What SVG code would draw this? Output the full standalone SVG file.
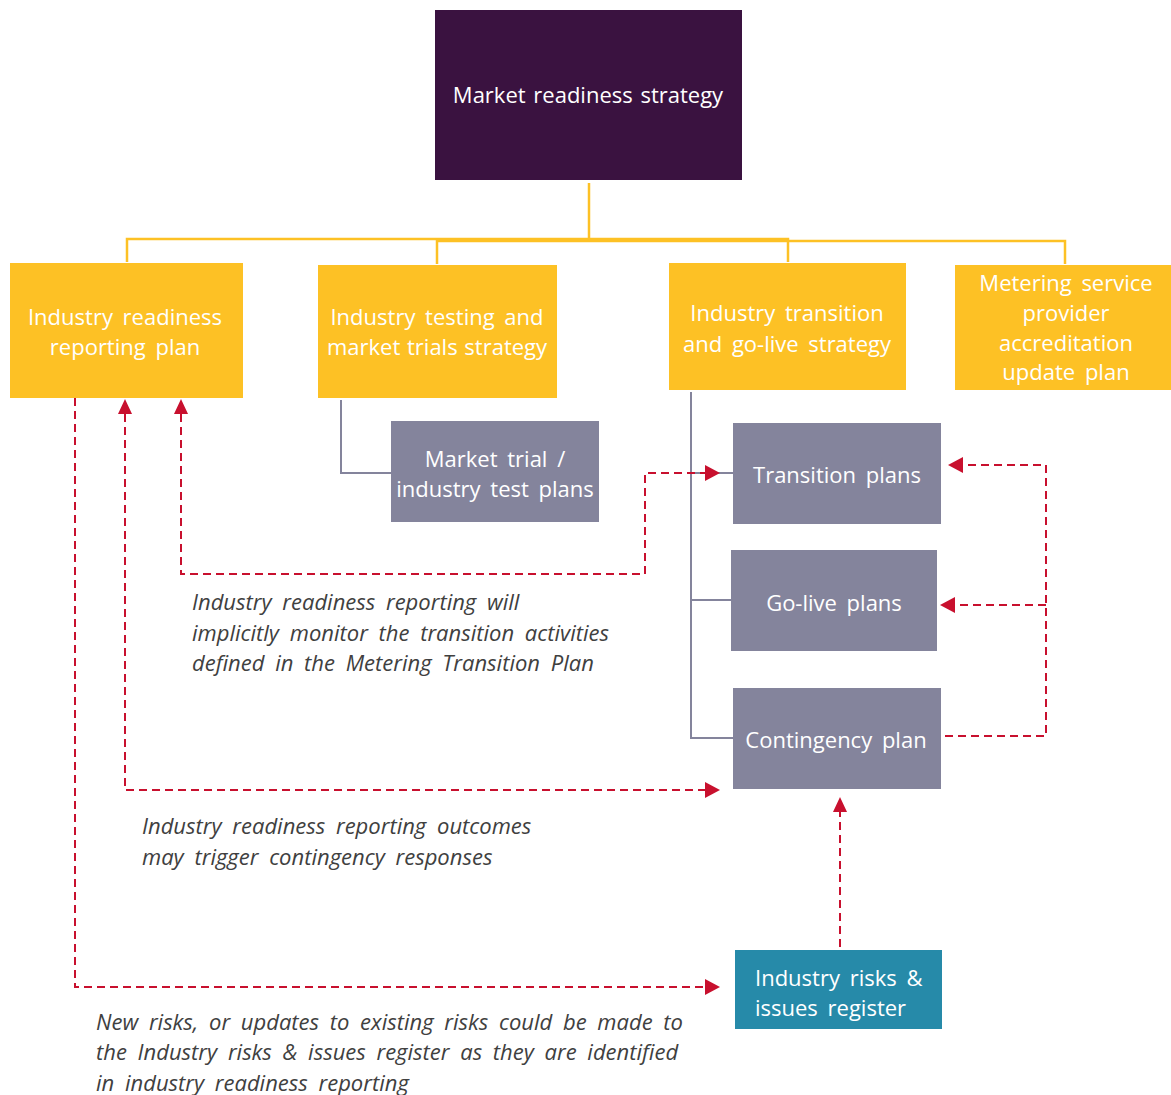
<svg xmlns="http://www.w3.org/2000/svg" width="1171" height="1095" viewBox="0 0 1171 1095">
<defs>
<style>
.t{font-family:"Open Sans","Noto Sans","Liberation Sans",sans-serif;font-size:22px;fill:#ffffff;text-anchor:middle;word-spacing:4px}
.n{font-family:"Open Sans","Noto Sans","Liberation Sans",sans-serif;font-size:22px;fill:#404040;font-style:italic;word-spacing:5px}
.y{fill:#fdc125}
.g{fill:#84849c}
.yl{stroke:#fdc125;stroke-width:2.5;fill:none}
.gl{stroke:#84849c;stroke-width:2;fill:none}
.rl{stroke:#c8102e;stroke-width:2;fill:none;stroke-dasharray:8 5}
.ah{fill:#c8102e}
</style>
</defs>
<rect width="1171" height="1095" fill="#ffffff"/>
<g id="connectors">
<polyline class="yl" points="589,183 589,239"/>
<polyline class="yl" points="127,262 127,239 788,239 788,262"/>
<polyline class="yl" points="437,264 437,241 1065,241 1065,264"/>
<polyline class="gl" points="341,400 341,473 391,473"/>
<polyline class="gl" points="691,392 691,738 733,738"/>
<polyline class="gl" points="691,473 733,473"/>
<polyline class="gl" points="691,600 731,600"/>
<path d="M75,398 V987 H705" class="rl"/>
<path class="ah" d="M720,987 l-15,-8 v16 z"/>
<path d="M125,414 V790 H705" class="rl"/>
<path class="ah" d="M720,790 l-15,-8 v16 z"/>
<path class="ah" d="M125,399 l-7,15 h14 z"/>
<path d="M181,414 V574 H645 V473 H705" class="rl"/>
<path class="ah" d="M720,473 l-15,-8 v16 z"/>
<path class="ah" d="M181,399 l-7,15 h14 z"/>
<path d="M945,736 H1046 V465 H962" class="rl"/>
<path class="ah" d="M948,465 l15,-8 v16 z"/>
<path d="M1046,605 H955" class="rl"/>
<path class="ah" d="M940,605 l15,-8 v16 z"/>
<path d="M840,947 V812" class="rl"/>
<path class="ah" d="M840,797 l-7,15 h14 z"/>
</g>
<g id="market-readiness-strategy">
<rect x="435" y="10" width="307" height="170" fill="#3a1240"/>
<text class="t" x="588" y="103" style="word-spacing:2px">Market readiness strategy</text>
</g>
<g id="industry-readiness-reporting-plan">
<rect class="y" x="10" y="263" width="233" height="135"/>
<text class="t" x="125" y="325">Industry readiness</text>
<text class="t" x="125" y="355">reporting plan</text>
</g>
<g id="industry-testing">
<rect class="y" x="318" y="265" width="239" height="133"/>
<text class="t" x="437" y="325">Industry testing and</text>
<text class="t" x="437" y="355" style="word-spacing:1px">market trials strategy</text>
</g>
<g id="industry-transition">
<rect class="y" x="669" y="263" width="237" height="127"/>
<text class="t" x="787" y="321">Industry transition</text>
<text class="t" x="787" y="352">and go-live strategy</text>
</g>
<g id="metering-service">
<rect class="y" x="955" y="265" width="216" height="125"/>
<text class="t" x="1066" y="291">Metering service</text>
<text class="t" x="1066" y="321">provider</text>
<text class="t" x="1066" y="351">accreditation</text>
<text class="t" x="1066" y="380">update plan</text>
</g>
<g id="market-trial">
<rect class="g" x="391" y="421" width="208" height="101"/>
<text class="t" x="495" y="467">Market trial /</text>
<text class="t" x="495" y="497">industry test plans</text>
</g>
<g id="transition-plans">
<rect class="g" x="733" y="423" width="208" height="101"/>
<text class="t" x="837" y="483">Transition plans</text>
</g>
<g id="go-live-plans">
<rect class="g" x="731" y="550" width="206" height="101"/>
<text class="t" x="834" y="611">Go-live plans</text>
</g>
<g id="contingency-plan">
<rect class="g" x="733" y="688" width="208" height="101"/>
<text class="t" x="836" y="748">Contingency plan</text>
</g>
<g id="risks-register">
<rect x="735" y="950" width="207" height="79" fill="#268aa9"/>
<text class="t" x="755" y="986" style="text-anchor:start">Industry risks &amp;</text>
<text class="t" x="755" y="1016" style="text-anchor:start">issues register</text>
</g>
<g id="notes">
<text class="n" x="192" y="610">Industry readiness reporting will</text>
<text class="n" x="192" y="641">implicitly monitor the transition activities</text>
<text class="n" x="192" y="671">defined in the Metering Transition Plan</text>
<text class="n" x="142" y="834">Industry readiness reporting outcomes</text>
<text class="n" x="142" y="865">may trigger contingency responses</text>
<text class="n" x="96" y="1030">New risks, or updates to existing risks could be made to</text>
<text class="n" x="96" y="1060">the Industry risks &amp; issues register as they are identified</text>
<text class="n" x="96" y="1091">in industry readiness reporting</text>
</g>
</svg>
